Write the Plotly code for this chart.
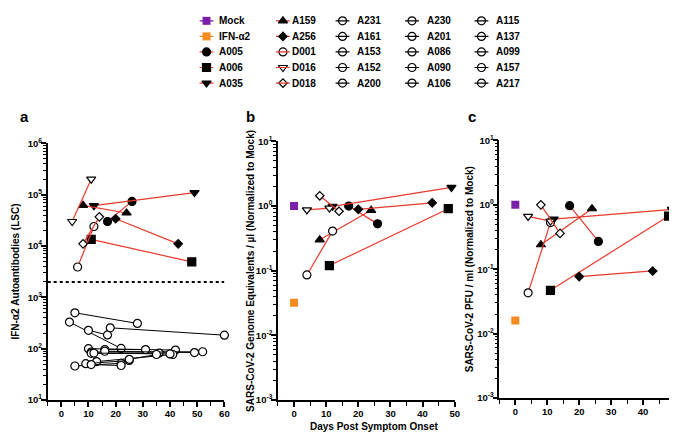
import plotly.graph_objects as go

# ---------------- data ----------------
days_label = "Days Post Symptom Onset"

patients = ["A005", "A006", "A035", "A159", "A256", "D001", "D016", "D018"]
symbols = ["circle", "square", "triangle-down", "triangle-up", "diamond",
           "circle-open", "triangle-down-open", "diamond-open"]

# panel a: IFN-a2 autoantibodies (LSC), two timepoints per patient
a_day1 = [17, 11, 12, 8, 20, 6, 4, 8]
a_day2 = [26, 48, 49, 24, 43, 12, 11, 14]
a_val1 = [3.0e4, 1.35e4, 6.1e4, 6.2e4, 3.4e4, 3.9e3, 3.0e4, 1.1e4]
a_val2 = [7.4e4, 4.9e3, 1.1e5, 4.4e4, 1.1e4, 2.4e4, 2.0e5, 3.7e4]

controls = ["A231", "A161", "A153", "A152", "A200", "A230", "A201", "A086",
            "A090", "A106", "A115", "A137", "A099", "A157", "A217"]
c_day1 = [5, 3, 10, 18, 10, 11, 11, 16, 16, 13, 5, 9, 11, 12, 25]
c_day2 = [28, 22, 17, 60, 42, 52, 36, 31, 49, 41, 22, 25, 22, 40, 35]
c_val1 = [500, 330, 228, 255, 100, 86, 81, 96, 89, 56, 46, 51, 49, 82, 62]
c_val2 = [310, 101, 185, 183, 94, 87, 82, 96, 84, 77, 52, 59, 47, 79, 77]

threshold = 2000

# panel b: genome equivalents / ul (normalized to mock)
b_day1 = [17, 11, 12, 8, 20, 4, 4, 8]
b_day2 = [26, 48, 49, 24, 43, 12, 11, 14]
b_val1 = [1.0, 0.12, 0.99, 0.30, 0.89, 0.086, 0.87, 1.44]
b_val2 = [0.53, 0.91, 1.94, 0.86, 1.12, 0.41, 0.93, 0.83]

# panel c: PFU / ml (normalized to mock)
c2_day1 = [17, 11, 12, 8, 20, 4, 4, 8]
c2_day2 = [26, 48, 49, 24, 43, 11, 11, 14]
c2_val1 = [0.97, 0.047, 0.60, 0.24, 0.077, 0.043, 0.66, 1.0]
c2_val2 = [0.27, 0.67, 0.85, 0.87, 0.094, 0.53, 0.56, 0.36]

mock_day = 0
mock_b, mock_c = 1.0, 1.0
ifn_b, ifn_c = 0.032, 0.016

legend_columns = [
    ["Mock", "IFN-α2", "A005", "A006", "A035"],
    ["A159", "A256", "D001", "D016", "D018"],
    ["A231", "A161", "A153", "A152", "A200"],
    ["A230", "A201", "A086", "A090", "A106"],
    ["A115", "A137", "A099", "A157", "A217"],
]

# ---------------- style ----------------
W, H = 677, 432
RED = "#E8392C"
PURPLE = "#7A1FA8"
ORANGE = "#F68B1F"
FONT = "Arial, 'Liberation Sans', sans-serif"
LEG_H = 82


def px_x(p):
    return p / W


def px_y(p):
    return 1 - p / H


def marker_style(sym):
    base = sym.replace("-open", "")
    openm = sym.endswith("-open")
    size = 8 if base != "diamond" else 6.5
    return dict(symbol=base, size=size,
                color="white" if openm else "black",
                line=dict(color="black", width=1.2))


fig = go.Figure()

# panel a
for i, p in enumerate(controls):
    fig.add_trace(go.Scatter(x=[c_day1[i], c_day2[i]], y=[c_val1[i], c_val2[i]],
                             mode="lines+markers", line=dict(color="black", width=1),
                             marker=marker_style("circle-open"), cliponaxis=False,
                             showlegend=False, xaxis="x", yaxis="y"))
for i, p in enumerate(patients):
    fig.add_trace(go.Scatter(x=[a_day1[i], a_day2[i]], y=[a_val1[i], a_val2[i]],
                             mode="lines+markers", line=dict(color=RED, width=1.2),
                             marker=marker_style(symbols[i]), cliponaxis=False,
                             showlegend=False, xaxis="x", yaxis="y"))

# panels b and c
for (ax, ay, d1, d2, v1, v2, mv, iv) in [
        ("x2", "y2", b_day1, b_day2, b_val1, b_val2, mock_b, ifn_b),
        ("x3", "y3", c2_day1, c2_day2, c2_val1, c2_val2, mock_c, ifn_c)]:
    for i, p in enumerate(patients):
        fig.add_trace(go.Scatter(x=[d1[i], d2[i]], y=[v1[i], v2[i]],
                                 mode="lines+markers", line=dict(color=RED, width=1.2),
                                 marker=marker_style(symbols[i]), cliponaxis=False,
                                 showlegend=False, xaxis=ax, yaxis=ay))
    fig.add_trace(go.Scatter(x=[mock_day], y=[mv], mode="markers",
                             marker=dict(symbol="square", size=8, color=PURPLE),
                             showlegend=False, xaxis=ax, yaxis=ay))
    fig.add_trace(go.Scatter(x=[mock_day], y=[iv], mode="markers",
                             marker=dict(symbol="square", size=8, color=ORANGE),
                             showlegend=False, xaxis=ax, yaxis=ay))

# manual legend (5 columns x 5 rows)
sym_x = [200, 277, 337, 407, 477]
txt_x = [211, 284, 350, 420, 490]
row_y = [6, 22, 38, 54, 70]
style_of = {}
style_of["Mock"] = (dict(symbol="square", size=8, color=PURPLE), PURPLE, False)
style_of["IFN-α2"] = (dict(symbol="square", size=8, color=ORANGE), ORANGE, False)
for i, p in enumerate(patients):
    style_of[p] = (marker_style(symbols[i]), RED, symbols[i].endswith("-open"))
for p in controls:
    style_of[p] = (marker_style("circle-open"), "black", True)

annotations = []
for ci, col in enumerate(legend_columns):
    for ri, name in enumerate(col):
        mk, lc, over = style_of[name]
        cx, cy = sym_x[ci], row_y[ri]
        line_tr = go.Scatter(x=[cx - 7, cx + 7], y=[cy, cy], mode="lines",
                             line=dict(color=lc, width=1.2), showlegend=False,
                             cliponaxis=False, xaxis="x4", yaxis="y4")
        mk_tr = go.Scatter(x=[cx], y=[cy], mode="markers", marker=mk,
                           showlegend=False, cliponaxis=False, xaxis="x4", yaxis="y4")
        if over:
            fig.add_trace(mk_tr)
            fig.add_trace(line_tr)
        else:
            fig.add_trace(line_tr)
            fig.add_trace(mk_tr)
        annotations.append(dict(x=px_x(txt_x[ci]), y=px_y(cy), xref="paper", yref="paper",
                                text=name, showarrow=False, xanchor="left",
                                yanchor="middle", font=dict(size=10)))

# axes
def xaxis_cfg(dom, rng, maxv):
    return dict(domain=dom, range=rng, showline=True, linewidth=1.5, linecolor="black",
                ticks="outside", ticklen=5, tickwidth=1.5, tickcolor="black",
                tickmode="array", tickvals=list(range(0, maxv + 1, 10)),
                showgrid=False, zeroline=False, ticklabelstandoff=-1,
                minor=dict(ticks="outside", ticklen=4, tickwidth=1.2, tickcolor="black",
                           tickmode="array",
                           tickvals=list(range(-5, maxv + 1, 10)), showgrid=False),
                tickfont=dict(size=9.5))


def yaxis_cfg(dom, lo, hi, anchor):
    vals = [10 ** e for e in range(lo, hi + 1)]
    txt = ["10<sup>%d</sup>" % e for e in range(lo, hi + 1)]
    minors = [k * 10 ** e for e in range(lo, hi) for k in range(2, 10)]
    return dict(domain=dom, type="log", range=[lo, hi], anchor=anchor, showline=True,
                linewidth=1.5, linecolor="black", ticks="outside", ticklen=5,
                tickwidth=1.5, tickcolor="black", tickmode="array",
                tickvals=vals, ticktext=txt, ticklabelstandoff=-3,
                showgrid=False, zeroline=False,
                minor=dict(ticks="outside", ticklen=3, tickwidth=1, tickcolor="black",
                           tickmode="array", tickvals=minors, showgrid=False),
                tickfont=dict(size=9.5))


fig.update_layout(
    width=W, height=H, margin=dict(l=0, r=0, t=0, b=0),
    paper_bgcolor="white", plot_bgcolor="rgba(0,0,0,0)",
    font=dict(family=FONT, size=10, color="black", weight="bold"),
    xaxis=dict(**xaxis_cfg([px_x(40), px_x(218)], [-5, 60], 60), anchor="y"),
    yaxis=yaxis_cfg([px_y(396), px_y(132)], 1, 6, "x"),
    xaxis2=dict(**xaxis_cfg([px_x(272), px_x(450)], [-5, 50], 50), anchor="y2"),
    yaxis2=yaxis_cfg([px_y(396), px_y(130)], -3, 1, "x2"),
    xaxis3=dict(**xaxis_cfg([px_x(495), px_x(672)], [-5, 50], 50), anchor="y3"),
    yaxis3=yaxis_cfg([px_y(394), px_y(129)], -3, 1, "x3"),
    xaxis4=dict(domain=[0, 1], range=[0, W], visible=False, anchor="y4", fixedrange=True),
    yaxis4=dict(domain=[px_y(LEG_H), 1], range=[LEG_H, 0], visible=False, anchor="x4",
                fixedrange=True),
    showlegend=False,
    shapes=[dict(type="line", xref="x", yref="y", x0=-5, x1=60,
                 y0=threshold, y1=threshold,
                 line=dict(color="black", width=2, dash="dot"))],
)

annotations += [
    dict(x=px_x(17), y=px_y(104), text="a", font=dict(size=15)),
    dict(x=px_x(244), y=px_y(104), text="b", font=dict(size=15)),
    dict(x=px_x(467), y=px_y(104), text="c", font=dict(size=15)),
    dict(x=px_x(8), y=px_y(264), text="IFN-α2 Autoantibodies (LSC)", textangle=-90),
    dict(x=px_x(245), y=px_y(263),
         text="SARS-CoV-2 Genome Equivalents / µl (Normalized to Mock)", textangle=-90),
    dict(x=px_x(465), y=px_y(262),
         text="SARS-CoV-2 PFU / ml (Normalized to Mock)", textangle=-90),
    dict(x=px_x(369), y=px_y(423), text=days_label),
]
for an in annotations[-7:]:
    an.update(xref="paper", yref="paper", showarrow=False,
              xanchor="center", yanchor="middle")
fig.update_layout(annotations=annotations)

fig.write_html("out.html")
